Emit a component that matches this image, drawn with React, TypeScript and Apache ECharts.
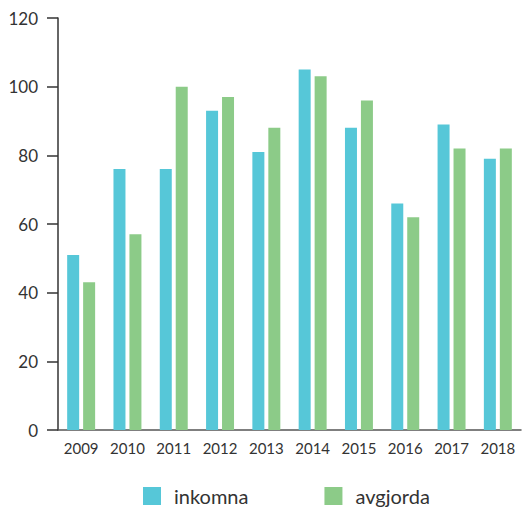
import React, { useEffect, useRef } from "react";
import * as echarts from "echarts";

const years = ["2009", "2010", "2011", "2012", "2013", "2014", "2015", "2016", "2017", "2018"];
const inkomna = [51, 76, 76, 93, 81, 105, 88, 66, 89, 79];
const avgjorda = [43, 57, 100, 97, 88, 103, 96, 62, 82, 82];

export default function App() {
  const ref = useRef<HTMLDivElement>(null);
  useEffect(() => {
    if (!ref.current) return;
    const chart = echarts.init(ref.current, null, { renderer: "svg" });
    chart.setOption({
      animation: false,
      textStyle: { fontFamily: "Lato" },
      grid: { left: 58, right: 5, top: 18, bottom: 81, containLabel: false },
      legend: {
        data: ["inkomna", "avgjorda"],
        left: 143,
        top: 485,
        padding: 0,
        itemWidth: 18,
        itemHeight: 18,
        itemGap: 76,
        icon: "rect",
        textStyle: { fontSize: 20, lineHeight: 22, color: "#333", padding: [0, 0, 0, 8], fontFamily: "Lato" },
      },
      xAxis: {
        type: "category",
        data: years,
        axisLine: { lineStyle: { color: "#555", width: 1.5 } },
        axisTick: { inside: true, length: 10, lineStyle: { color: "#333", width: 1.5 } },
        axisLabel: { fontSize: 15, color: "#333", margin: 10, fontFamily: "Lato" },
      },
      yAxis: {
        type: "value",
        min: 0,
        max: 120,
        interval: 20,
        splitLine: { show: false },
        axisLine: { show: true, lineStyle: { color: "#333", width: 1.5 } },
        axisTick: { show: true, length: 11, lineStyle: { color: "#333", width: 1.5 } },
        axisLabel: { fontSize: 17, color: "#333", margin: 20, fontFamily: "Lato" },
      },
      series: [
        {
          name: "inkomna",
          type: "bar",
          data: inkomna,
          barWidth: 12,
          barGap: "33%",
          itemStyle: { color: "#56C7D8" },
        },
        {
          name: "avgjorda",
          type: "bar",
          data: avgjorda,
          barWidth: 12,
          itemStyle: { color: "#8CCB88" },
        },
      ],
    });
    return () => chart.dispose();
  }, []);
  return <div ref={ref} style={{ width: 526, height: 511, position: "absolute", left: 0, top: 0 }} />;
}
